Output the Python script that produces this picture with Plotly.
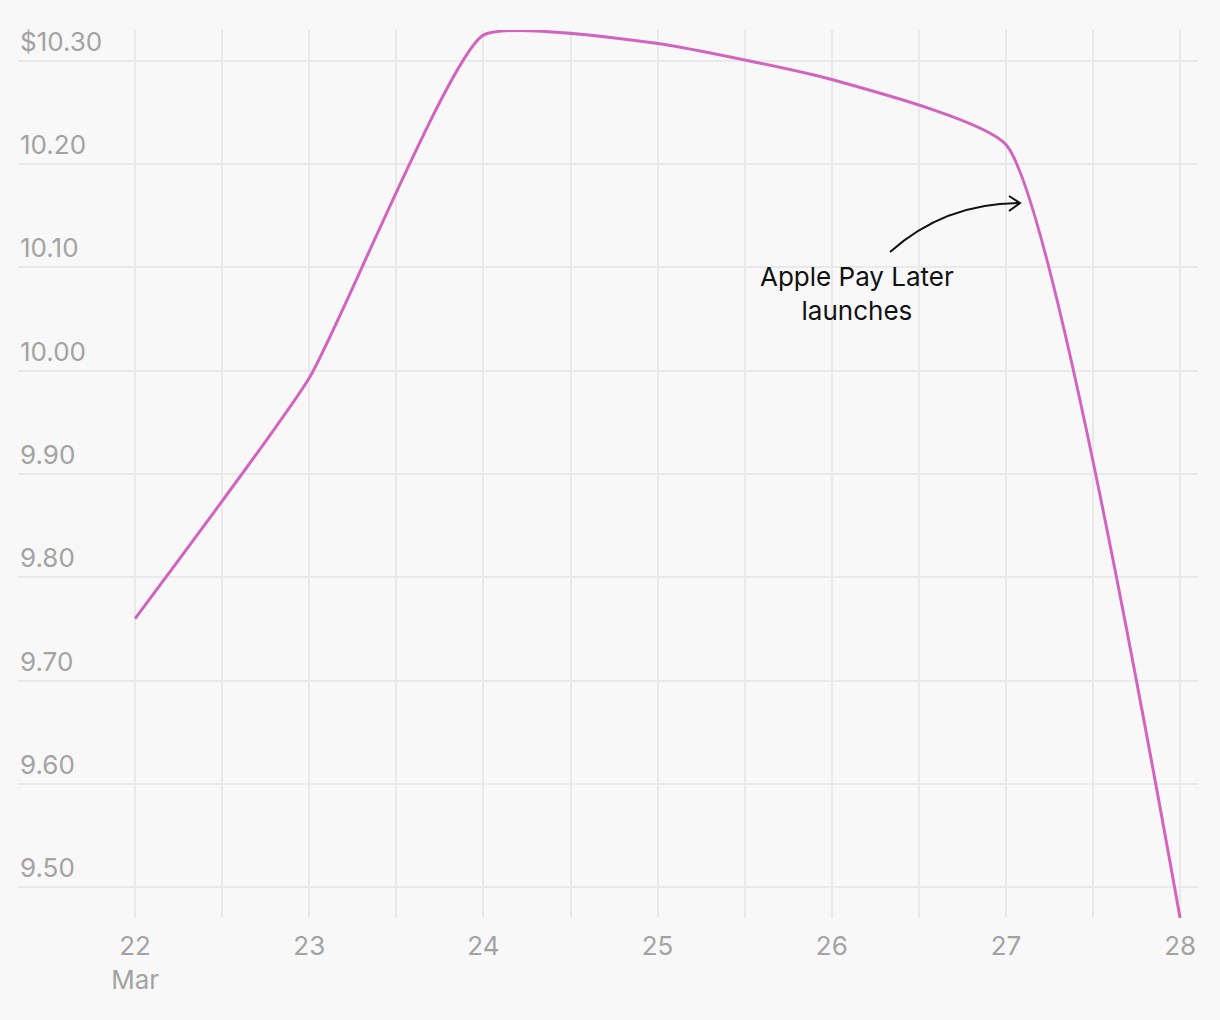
import plotly.graph_objects as go

dates = ["2023-03-22", "2023-03-23", "2023-03-24", "2023-03-25",
         "2023-03-26", "2023-03-27", "2023-03-28"]
prices = [9.76, 9.993, 10.325, 10.317, 10.282, 10.219, 9.47]

y_ticks = [9.5, 9.6, 9.7, 9.8, 9.9, 10.0, 10.1, 10.2, 10.3]
y_labels = ["9.50", "9.60", "9.70", "9.80", "9.90", "10.00", "10.10", "10.20", "$10.30"]
x_ticks = dates
x_labels = ["22<br>Mar", "23", "24", "25", "26", "27", "28"]
x_minor = ["2023-03-22 12:00", "2023-03-23 12:00", "2023-03-24 12:00",
           "2023-03-25 12:00", "2023-03-26 12:00", "2023-03-27 12:00"]

W, H = 1220, 1020
L, R, T, B = 18, 22, 30, 102
pw, ph = W - L - R, H - T - B
BG = "#f8f8f8"


def px(x, y):
    return (x - L) / pw, (H - B - y) / ph


fig = go.Figure()
fig.add_trace(go.Scatter(
    x=dates, y=prices, mode="lines",
    line=dict(color="#d264bf", width=3, shape="spline", smoothing=0.45),
    hoverinfo="skip", showlegend=False,
))

grid = "#e9e9e9"
tickfont = dict(family="Inter, sans-serif", size=26, color="#a3a3a3")

fig.update_layout(
    width=W, height=H,
    margin=dict(l=L, r=R, t=T, b=B),
    paper_bgcolor=BG, plot_bgcolor=BG,
    xaxis=dict(
        type="date",
        range=["2023-03-21 07:52", "2023-03-28 02:28"],
        tickmode="array", tickvals=x_ticks, ticktext=x_labels,
        showgrid=True, gridcolor=grid, gridwidth=2,
        minor=dict(tickmode="array", tickvals=x_minor, showgrid=True,
                   gridcolor=grid, gridwidth=2, ticks=""),
        ticks="", showline=False, zeroline=False,
        tickfont=tickfont, ticklabelstandoff=10,
    ),
    yaxis=dict(
        range=[9.47, 10.33],
        tickmode="array", tickvals=y_ticks, showticklabels=False,
        showgrid=True, gridcolor=grid, gridwidth=2,
        ticks="", showline=False, zeroline=False,
    ),
)

for v, lab in zip(y_ticks, y_labels):
    fig.add_annotation(
        x=0, xref="paper", y=v, yref="y", text=lab, showarrow=False,
        xanchor="left", yanchor="bottom", yshift=2,
        font=tickfont,
    )

# annotation text
ax, ay = px(857, 294)
fig.add_annotation(
    x=ax, y=ay, xref="paper", yref="paper",
    text="Apple Pay Later<br>launches", showarrow=False,
    font=dict(family="Inter, sans-serif", size=26, color="#111111"),
    align="center", xanchor="center", yanchor="middle",
)

# curved arrow
sx, sy = px(890, 252)
cx, cy = px(945, 203)
ex, ey = px(1020, 203)
fig.add_shape(type="path", xref="paper", yref="paper",
              path=f"M {sx},{sy} Q {cx},{cy} {ex},{ey}",
              line=dict(color="#111111", width=2))
h1x, h1y = px(1009, 196)
h2x, h2y = px(1009, 211)
fig.add_shape(type="path", xref="paper", yref="paper",
              path=f"M {h1x},{h1y} L {ex},{ey} L {h2x},{h2y}",
              line=dict(color="#111111", width=2))

fig.write_html(
    "out.html",
    config={"displayModeBar": False, "staticPlot": True},
    post_script=(
        "document.body.style.margin='0';"
        "document.body.style.background='" + BG + "';"
        "document.documentElement.style.background='" + BG + "';"
    ),
)
